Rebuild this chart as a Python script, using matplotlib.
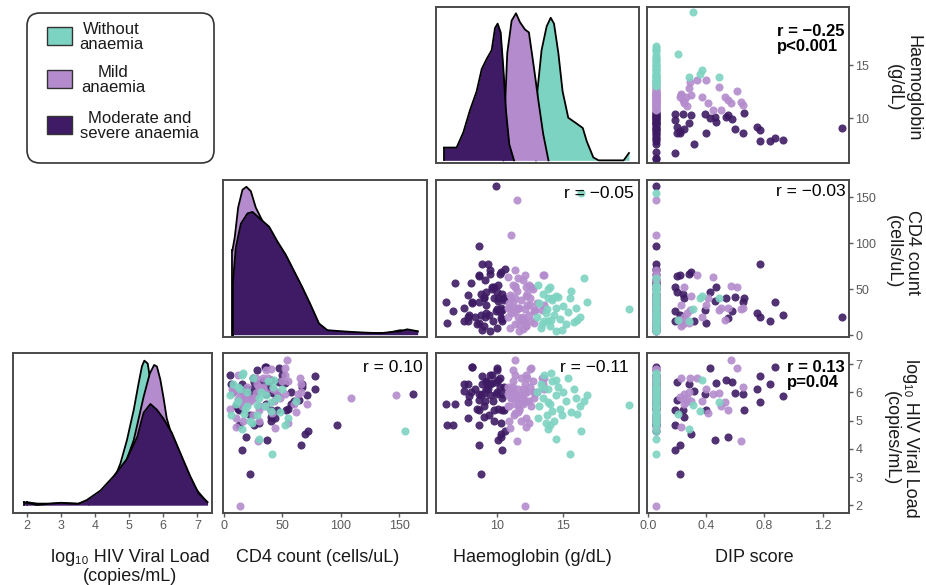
import numpy as np
import matplotlib.pyplot as plt
from matplotlib.patches import FancyBboxPatch, Rectangle

plt.rcParams['font.family'] = ['Liberation Sans', 'DejaVu Sans']

TEAL = '#7dd3c1'
LILAC = '#b48ccd'
DARK = '#3e1b64'
nan = np.nan

###############################################################################
# subjects, by anaemia group  (DIP 0.06 = the column of zero scores)
sev_dip = [0.19, 0.19, 0.19, 0.20, 0.20, 0.22, 0.22, 0.24, 0.25, 0.28, 0.30, 0.32, 0.39, 0.40, 0.43,
           0.46, 0.47, 0.54, 0.55, 0.58, 0.60, 0.65, 0.66, 0.75, 0.77, 0.77, 0.84, 0.87, 0.93, 1.33] + [0.06] * 32
sev_vl = [5.37, 4.83, 3.95, 6.38, 5.72, 4.12, 3.11, 5.37, 5.14, 6.31, 4.54, 6.05, 5.93, 5.37, 6.85,
          4.31, 6.32, 6.44, 4.41, 6.35, 5.99, 5.93, 5.37, 6.11, 6.56, 5.66, 6.29, 6.88, 5.87, nan,
          5.93, 4.83, 6.1, 5.9, 6.2, 5.6, 6.0, 5.58, 4.86, 6.88, 6.80, 6.3, 6.1, 5.9, 5.5, 6.4,
          5.2, 6.6, 5.7, 5.0, 6.0, 5.4, 6.5, 5.8, 6.2, 5.4, 5.1, 5.7, 4.9, 6.3, 4.63, 6.6]
sev_hb = [9.8, 6.7, 10.35, 9.2, 8.6, 8.6, 8.8, 10.4, 9.0, 9.5, 10.3, 7.5, 10.4, 8.6, 10.0,
          10.1, 9.6, 10.1, 10.3, 9.9, 9.0, 8.6, 10.5, 9.2, 8.9, 7.8, 7.8, 8.1, 7.9, 9.1,
          9.9, 8.6, 9.3, 9.5, 10.2, 6.8, 8.0, 6.1, 6.2, 8.1, 10.0, 7.5, 8.3, 8.8, 9.0, 9.2,
          9.4, 9.6, 9.7, 9.8, 10.0, 10.1, 10.2, 10.4, 10.5, 8.5, 7.8, 9.1, 10.3, 8.9, 10.6, 9.5]
sev_cd4 = [53, 26, 15, 47, 64, 66, 22, 45, 40, 67, 69, 15, 27, 13, 47,
           37, 52, 40, 19, 26, 42, 36, 40, 24, 78, 20, 15, 36, 22, 20,
           162, 97, 78, 71, 67, 57, 57, 36, 13, 35, 28, 30, 20, 45, 10, 33,
           22, 50, 15, 40, 8, 55, 25, 18, 38, 12, 44, 60, 30, 6, 72, 5]

mild_dip = [0.57, 0.61, 0.23, 0.29, 0.34, 0.65, 0.45, 0.49, 0.22, 0.24, 0.25, 0.26, 0.27, 0.28,
            0.30, 0.25, 0.37, 0.53, 0.41, 0.55, 0.23, 0.64, 0.40, 0.50] + [0.06] * 37
mild_vl = [7.15, 6.85, 6.49, 6.50, 6.50, 6.19, 5.93, 5.99, 5.85, 5.75, 5.95, 5.65, 5.80, 6.00,
           5.70, 5.60, 5.70, 5.66, 5.26, 5.37, 4.78, 4.29, 6.10, 5.50,
           5.90, 5.81, 6.3, 5.6, 6.0, 1.98, 6.82, 4.75, 6.2, 5.5, 6.0, 6.4, 5.2, 6.6, 5.8, 6.1,
           5.4, 6.5, 5.9, 5.6, 6.3, 5.1, 6.0, 5.7, 6.2, 5.5, 6.4, 5.8, 6.8, 5.3, 6.1, 4.9, 5.0,
           6.0, 6.1, 6.6, 5.0]
mild_hb = [11.4, 12.6, 12.3, 13.4, 13.6, 11.2, 10.8, 12.9, 12.0, 11.7, 11.4, 12.0, 11.1, 12.8,
           12.2, 11.6, 12.0, 12.0, 11.4, 11.7, 12.2, 11.5, 13.6, 10.8,
           11.5, 11.1, 13.5, 11.4, 12.1, 12.1, 12.5, 11.0, 10.8, 10.9, 11.0, 11.2, 11.3, 11.4,
           11.5, 11.6, 11.7, 11.8, 11.9, 12.0, 12.1, 12.2, 12.3, 12.4, 12.5, 12.6, 12.7, 12.8,
           11.2, 11.6, 12.0, 12.4, 11.8, 13.0, 11.1, 12.2, 10.9]
mild_cd4 = [54, 52, 33, 27, 65, 30, 63, 27, 17, 12, 52, 17, 24, 13, 43, 20, 20, 17, 41, 30, 10, 29, 33, 30,
            147, 109, 66, 71, 66, 14, 40, 44, 20, 35, 8, 55, 25, 12, 48, 30, 5, 38, 18, 60, 28,
            10, 45, 22, 33, 15, 50, 26, 36, 62, 7, 55, 16, 35, 42, 52, 30]

none_dip = [0.37, 0.49, 0.31, 0.36, 0.21, 0.28] + [0.06] * 31
none_vl = [6.44, 5.66, 5.54, 5.34, 5.22, 4.71,
           4.63, 5.7, 3.8, 4.35, 4.86, 6.0, 5.5, 6.3, 5.8, 6.6, 5.2, 6.1, 5.6, 6.4, 5.0, 5.9,
           6.2, 5.4, 6.0, 5.7, 6.5, 5.3, 6.1, 5.8, 5.5, 5.9, 5.1, 4.9, 6.7, 5.2, 6.2]
none_hb = [14.5, 13.9, 20.0, 14.2, 16.1, 13.9,
           16.4, 16.6, 15.5, 14.5, 14.0, 13.0, 13.2, 13.3, 13.5, 13.6, 13.8, 13.9, 14.0, 14.2,
           14.3, 14.5, 14.6, 14.8, 15.0, 15.2, 15.4, 15.6, 15.8, 16.0, 16.3, 16.8, 13.1, 13.7,
           14.1, 14.9, 13.4]
none_cd4 = [43, 40, 28, 40, 17, 15,
            155, 62, 41, 30, 52, 20, 35, 8, 45, 15, 28, 50, 10, 38, 22, 5, 42, 18, 32, 12,
            25, 48, 14, 30, 20, 36, 55, 24, 16, 6, 12]

# density curves (relative height)
none_hb_dx = [12.95, 13.06, 13.38, 13.76, 14.07, 14.32, 14.65, 14.97, 15.40, 16.04, 16.5, 16.8, 17.3, 17.7, 19.6, 20.0]
none_hb_dy = [0.0, 0.47, 0.75, 0.91, 0.97, 0.93, 0.73, 0.47, 0.29, 0.25, 0.22, 0.13, 0.02, 0.0, 0.0, 0.05]
mild_hb_dx = [10.48, 10.63, 10.78, 11.11, 11.44, 11.74, 12.12, 12.42, 12.80, 13.13, 13.5, 13.9]
mild_hb_dy = [0.0, 0.41, 0.73, 0.95, 1.0, 0.94, 0.89, 0.87, 0.63, 0.41, 0.18, 0.0]
sev_hb_dx = [5.98, 6.94, 7.45, 7.95, 8.46, 8.84, 9.22, 9.60, 9.85, 10.05, 10.28, 10.48, 10.68, 10.93, 11.29]
sev_hb_dy = [0.087, 0.087, 0.19, 0.34, 0.47, 0.62, 0.69, 0.75, 0.90, 0.93, 0.87, 0.63, 0.34, 0.11, 0.0]

none_cd4_dx = [8, 12, 20, 30, 40, 50, 60, 70, 80, 90, 110, 140, 157]
none_cd4_dy = [0.3, 0.5, 0.65, 0.66, 0.6, 0.48, 0.36, 0.2, 0.06, 0.02, 0.005, 0.005, 0.015]
mild_cd4_dx = [7.1, 9.1, 12, 15.7, 19.1, 22.9, 27.1, 34, 43, 54, 66, 77, 86, 100, 120, 140, 151, 160, 166]
mild_cd4_dy = [0.57, 0.66, 0.86, 0.98, 1.0, 0.97, 0.86, 0.75, 0.63, 0.45, 0.25, 0.09, 0.03, 0.015, 0.01, 0.012, 0.03, 0.02, 0.02]
sev_cd4_dx = [7.7, 10, 14.3, 20, 24.3, 31.4, 38.6, 45.7, 52.9, 60, 67.1, 74.3, 81.4, 88.6, 106, 120, 134, 151, 157, 166]
sev_cd4_dy = [0.37, 0.59, 0.75, 0.82, 0.83, 0.78, 0.73, 0.63, 0.54, 0.43, 0.32, 0.2, 0.075, 0.03, 0.02, 0.014, 0.01, 0.023, 0.036, 0.023]

none_vl_dx = [3.8, 4.0, 4.3, 4.59, 4.74, 4.93, 5.13, 5.27, 5.37, 5.44, 5.54, 5.62, 5.81, 6.1, 6.5, 6.8, 7.1]
none_vl_dy = [0.02, 0.04, 0.09, 0.20, 0.29, 0.45, 0.66, 0.84, 0.96, 1.0, 0.98, 0.86, 0.52, 0.29, 0.13, 0.05, 0.01]
mild_vl_dx = [1.98, 2.3, 2.7, 3.0, 3.5, 4.0, 4.5, 4.9, 5.13, 5.42, 5.6, 5.73, 5.81, 5.91, 6.0, 6.1, 6.2, 6.5, 6.89, 7.28]
mild_vl_dy = [0.02, 0.01, 0.01, 0.015, 0.01, 0.05, 0.15, 0.3, 0.45, 0.75, 0.91, 0.97, 0.96, 0.87, 0.75, 0.6, 0.52, 0.33, 0.13, 0.02]
sev_vl_dx = [1.9, 2.3, 2.7, 3.0, 3.3, 3.5, 3.75, 4.15, 4.54, 4.93, 5.23, 5.42, 5.62, 5.81, 6.0, 6.25, 6.5, 6.79, 7.04, 7.3]
sev_vl_dy = [0.02, 0.0, 0.01, 0.016, 0.01, 0.008, 0.035, 0.10, 0.20, 0.32, 0.47, 0.64, 0.70, 0.66, 0.60, 0.50, 0.36, 0.20, 0.08, 0.02]

###############################################################################
W, H = 926., 585.
fig = plt.figure(figsize=(W / 100, H / 100), dpi=100)

cols = [(13, 212), (223, 427), (436, 639), (647, 849)]
rows = [(7, 163), (180, 337), (353, 513)]

VL_X = (1.58, 7.43)
VL_Y = (1.73, 7.39)
CD4_X = (-1, 174)
CD4_Y = (-2, 169)
HB_X = (5.38, 20.76)
HB_Y = (5.75, 20.5)
DIP_X = (-0.005, 1.38)

groups = [(sev_dip, sev_cd4, sev_hb, sev_vl, DARK),
          (mild_dip, mild_cd4, mild_hb, mild_vl, LILAC),
          (none_dip, none_cd4, none_hb, none_vl, TEAL)]
DIP, CD4, HB, VL = 0, 1, 2, 3


def panel(r, c):
    x0, x1 = cols[c]
    y0, y1 = rows[r]
    ax = fig.add_axes([x0 / W, 1 - y1 / H, (x1 - x0) / W, (y1 - y0) / H])
    for s in ax.spines.values():
        s.set_color('#4a4a4a')
        s.set_linewidth(1.4)
        s.set_zorder(20)
    ax.set_xticks([])
    ax.set_yticks([])
    return ax


def scatter(ax, xi, yi):
    for g in groups:
        ax.scatter(g[xi], g[yi], s=34, color=g[4], alpha=0.9, linewidths=0)


def density(ax, curves):
    # each layer (fill + outline) covers the ones drawn before it
    for i, (dx, dy, col) in enumerate(curves):
        z = 2 + 2 * i
        ax.fill_between(dx, dy, 0, color=col, lw=0, zorder=z)
        ax.plot(dx, dy, color='black', lw=1.3, zorder=z + 1)
        ax.plot([dx[0], dx[0]], [0, dy[0]], color='black', lw=1.3, zorder=z + 1)


def xticks(ax, vals, labs):
    ax.set_xticks(vals)
    ax.set_xticklabels(labs)
    ax.tick_params(axis='x', colors='#5a5a5a', labelsize=9, length=3, width=1, pad=2)


def rticks(ax, vals, labs):
    ax.yaxis.tick_right()
    ax.set_yticks(vals)
    ax.set_yticklabels(labs)
    ax.tick_params(axis='y', colors='#5a5a5a', labelsize=9, length=3, width=1, pad=1.5)


# row 0 ----------------------------------------------------------------------
ax = panel(0, 2)
density(ax, [(none_hb_dx, none_hb_dy, TEAL), (mild_hb_dx, mild_hb_dy, LILAC), (sev_hb_dx, sev_hb_dy, DARK)])
ax.set_xlim(HB_X)
ax.set_ylim(-0.018, 1.043)

ax = panel(0, 3)
scatter(ax, DIP, HB)
ax.set_xlim(DIP_X)
ax.set_ylim(HB_Y)
rticks(ax, [10, 15], ['10', '15'])

# row 1 ----------------------------------------------------------------------
ax = panel(1, 1)
density(ax, [(none_cd4_dx, none_cd4_dy, TEAL), (mild_cd4_dx, mild_cd4_dy, LILAC), (sev_cd4_dx, sev_cd4_dy, DARK)])
ax.set_xlim(CD4_X)
ax.set_ylim(-0.016, 1.046)

ax = panel(1, 2)
scatter(ax, HB, CD4)
ax.set_xlim(HB_X)
ax.set_ylim(CD4_Y)

ax = panel(1, 3)
scatter(ax, DIP, CD4)
ax.set_xlim(DIP_X)
ax.set_ylim(CD4_Y)
rticks(ax, [0, 50, 100, 150], ['0', '50', '100', '150'])

# row 2 ----------------------------------------------------------------------
ax = panel(2, 0)
density(ax, [(none_vl_dx, none_vl_dy, TEAL), (mild_vl_dx, mild_vl_dy, LILAC), (sev_vl_dx, sev_vl_dy, DARK)])
ax.set_xlim(VL_X)
ax.set_ylim(-0.055, 1.053)
xticks(ax, [2, 3, 4, 5, 6, 7], ['2', '3', '4', '5', '6', '7'])

ax = panel(2, 1)
scatter(ax, CD4, VL)
ax.set_xlim(CD4_X)
ax.set_ylim(VL_Y)
xticks(ax, [0, 50, 100, 150], ['0', '50', '100', '150'])

ax = panel(2, 2)
scatter(ax, HB, VL)
ax.set_xlim(HB_X)
ax.set_ylim(VL_Y)
xticks(ax, [10, 15], ['10', '15'])

ax = panel(2, 3)
scatter(ax, DIP, VL)
ax.set_xlim(DIP_X)
ax.set_ylim(VL_Y)
xticks(ax, [0, 0.4, 0.8, 1.2], ['0.0', '0.4', '0.8', '1.2'])
rticks(ax, [2, 3, 4, 5, 6, 7], ['2', '3', '4', '5', '6', '7'])

###############################################################################
# overlay in pixel coordinates for legend and labels
ov = fig.add_axes([0, 0, 1, 1])
ov.set_xlim(0, W)
ov.set_ylim(H, 0)
ov.axis('off')
ov.patch.set_alpha(0)

ov.add_patch(FancyBboxPatch((27, 13), 187, 150, boxstyle='round,pad=0,rounding_size=13',
                            fc='white', ec='#333333', lw=1.2))
for (yc, col, lab, tx) in [(36, TEAL, 'Without\nanaemia', 79), (79, LILAC, 'Mild\nanaemia', 81),
                           (125, DARK, 'Moderate and\nsevere anaemia', 80)]:
    ov.add_patch(Rectangle((47, yc - 9), 25, 18, fc=col, ec='#333333', lw=1.0))
    ov.text(tx, yc + 1, lab, ha='left', va='center', multialignment='center',
            fontsize=12, linespacing=0.95, color='#1a1a1a')

lab_kw = dict(fontsize=13, color='#1a1a1a', multialignment='center', linespacing=1.15)
ov.text(130, 549, 'log\u2081\u2080 HIV Viral Load\n(copies/mL)', ha='center', va='top', **lab_kw)
ov.text(318, 549, 'CD4 count (cells/uL)', ha='center', va='top', **lab_kw)
ov.text(532, 549, 'Haemoglobin (g/dL)', ha='center', va='top', **lab_kw)
ov.text(754, 549, 'DIP score', ha='center', va='top', **lab_kw)

ov.text(904, 88, 'Haemoglobin\n(g/dL)', ha='center', va='center', rotation=270, **lab_kw)
ov.text(903, 252, 'CD4 count\n(cells/uL)', ha='center', va='center', rotation=270, **lab_kw)
ov.text(901, 438, 'log\u2081\u2080 HIV Viral Load\n(copies/mL)', ha='center', va='center', rotation=270, **lab_kw)

r_kw = dict(fontsize=12.5, color='black', va='center')
ov.text(777, 24, 'r = \u22120.25\np<0.001', ha='left', fontweight='bold', linespacing=1.0,
        fontsize=12, color='black', va='top')
ov.text(634, 193, 'r = \u22120.05', ha='right', **r_kw)
ov.text(846, 191, 'r = \u22120.03', ha='right', **r_kw)
ov.text(423, 368, 'r = 0.10', ha='right', **r_kw)
ov.text(629, 367, 'r = \u22120.11', ha='right', **r_kw)
ov.text(787, 360, 'r = 0.13\np=0.04', ha='left', fontweight='bold', linespacing=1.0,
        fontsize=12, color='black', va='top')

fig.savefig('out.png', dpi=100)
